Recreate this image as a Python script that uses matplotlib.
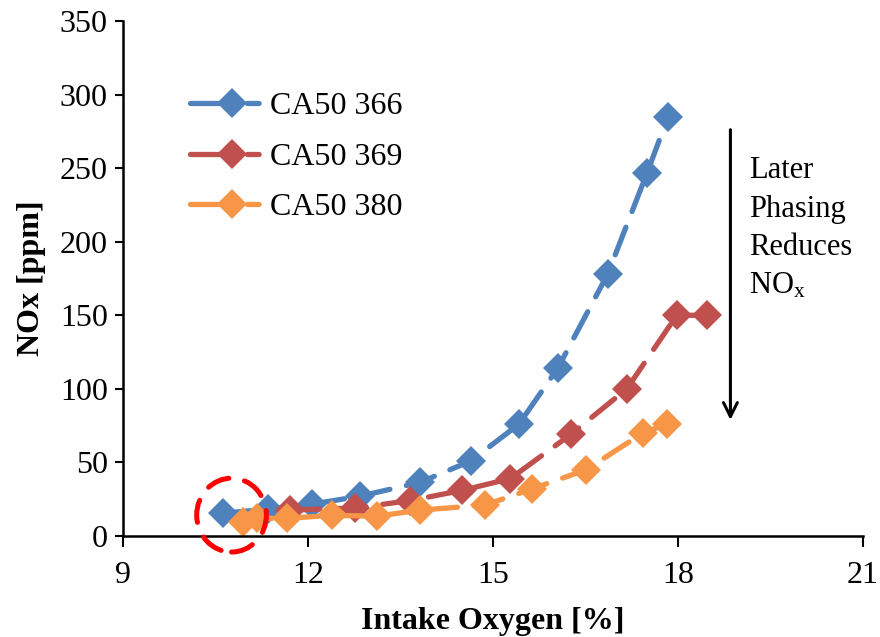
import matplotlib
matplotlib.use("Agg")
import matplotlib.pyplot as plt
from matplotlib.lines import Line2D
from matplotlib.patches import Ellipse

plt.rcParams['font.family'] = ['Liberation Serif', 'DejaVu Serif']
plt.rcParams['mathtext.default'] = 'regular'

# Data
x_366 = [10.62, 11.35, 12.06, 12.84, 13.82, 14.64, 15.42, 16.05, 16.86, 17.50, 17.84]
y_366 = [15.5, 18.2, 21.6, 27.0, 36.5, 51.0, 76.0, 114.0, 178.0, 247.0, 285.0]
x_369 = [11.71, 12.76, 13.65, 14.50, 15.28, 16.26, 17.17, 17.98, 18.47]
y_369 = [17.6, 19.0, 24.0, 31.0, 39.0, 69.0, 100.0, 150.0, 150.0]
x_380 = [10.95, 11.18, 11.66, 12.39, 13.12, 13.82, 14.87, 15.63, 16.51, 17.43, 17.82]
y_380 = [9.5, 12.0, 12.0, 14.0, 13.5, 17.6, 21.0, 32.0, 45.0, 70.0, 76.0]
labels = ['CA50 366', 'CA50 369', 'CA50 380']
colors = ['#4F81BD', '#C0504D', '#F79646']
xticks = [9, 12, 15, 18, 21]
yticks = [0, 50, 100, 150, 200, 250, 300, 350]

fig = plt.figure(figsize=(8.8, 6.37), dpi=100)
ax = fig.add_axes([123/880, 1-536/637, (863-123)/880, (536-21)/637])

lw = 3.8
ms = 15.2
series = [(x_366, y_366), (x_369, y_369), (x_380, y_380)]
for (xs, ys), c in zip(series, colors):
    ax.plot(xs, ys, color=c, lw=lw, dashes=(5.6, 3.2), dash_capstyle='round',
            marker='D', markersize=ms, markeredgewidth=0, clip_on=False)

ax.set_xlim(9, 21)
ax.set_ylim(0, 350)
ax.set_xticks(xticks)
ax.set_yticks(yticks)
ax.tick_params(labelsize=23, width=1.5, direction='out')
ax.tick_params(axis='x', length=8, pad=10)
ax.tick_params(axis='y', length=6, pad=5)
for s in ['top', 'right']:
    ax.spines[s].set_visible(False)
for s in ['left', 'bottom']:
    ax.spines[s].set_linewidth(1.8)
ax.set_xlabel('Intake Oxygen [%]', fontsize=23, fontweight='bold', labelpad=12)
ax.set_ylabel('NOx [ppm]', fontsize=23, fontweight='bold', labelpad=10)

# legend with Excel-like handles
handles = [Line2D([], [], color=c, lw=lw, dashes=(8.2, 2.6, 2.2, 20),
                  dash_capstyle='round', marker='D', markersize=ms,
                  markeredgewidth=0) for c in colors]
leg = ax.legend(handles, labels, loc='upper left', frameon=False, fontsize=23,
                bbox_to_anchor=(190/880, 1-92/637), bbox_transform=fig.transFigure,
                borderpad=0, borderaxespad=0, handlelength=2.6, handletextpad=-0.1,
                labelspacing=0.66, numpoints=1)

# highlighted circle
circ = Ellipse((10.76, 14.2), 1.13, 50.2, fill=False, edgecolor='#FF0000', lw=3.6,
               linestyle=(0, (4.5, 3.2)), capstyle='round', clip_on=False, zorder=5)
ax.add_patch(circ)

# arrow and annotation
ax.annotate('', xy=(18.85, 77), xytext=(18.85, 278),
            arrowprops=dict(arrowstyle='->,head_length=1.0,head_width=0.5', lw=2.2, color='black'))
ax.text(19.15, 258, 'Later\nPhasing\nReduces\nNO$_x$', fontsize=22, va='top', ha='left',
        linespacing=1.42)

fig.savefig('out.png', dpi=100)
